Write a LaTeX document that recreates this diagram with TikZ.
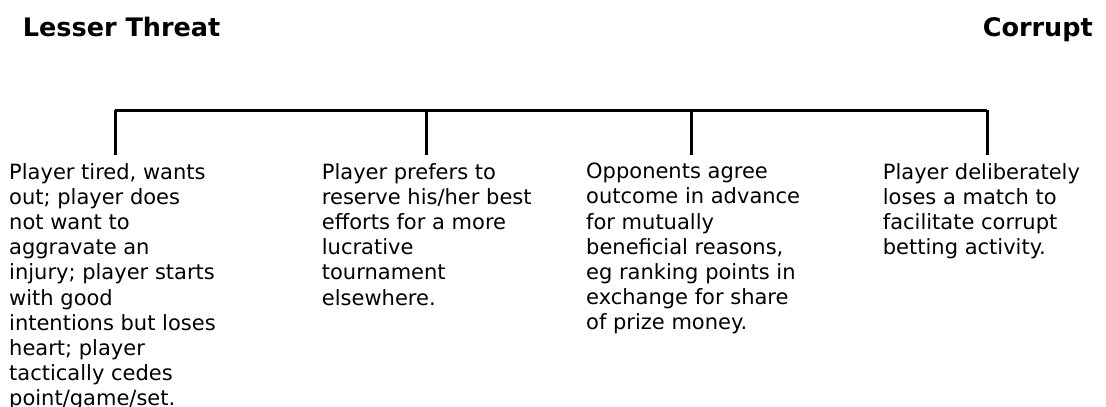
\documentclass[tikz,border=0pt]{standalone}
\usepackage{fontspec}
\setmainfont{DejaVu Sans}
\begin{document}
\begin{tikzpicture}[x=1pt,y=-1pt,
  heading/.style={font=\fontsize{25.5}{30}\selectfont\bfseries,inner sep=0pt},
  caption/.style={font=\fontsize{21}{25.2}\selectfont,align=left,anchor=north west,inner sep=0pt},
  branch/.style={line width=3pt}]
  \useasboundingbox (0,0) rectangle (1106,407);
  \node[heading,anchor=base west] (lesser) at (22.7,36) {Lesser Threat};
  \node[heading,anchor=base east] (corrupt) at (1093,36) {Corrupt};
  % the bar and its drops
  \coordinate (b1) at (115,110);
  \coordinate (b2) at (426.7,110);
  \coordinate (b3) at (691.7,110);
  \coordinate (b4) at (987,110);
  \foreach \i/\x in {1/115,2/426.7,3/691.7,4/987}
    \coordinate (t\i) at (\x,155);
  \draw[branch] (b1) -- (b4);
  \foreach \i in {1,...,4}
    \draw[branch] (b\i) -- (t\i);
  % the cases
  \node[caption] (tired) at (9,163) {Player tired, wants\\out; player does\\not want to\\aggravate an\\injury; player starts\\with good\\intentions but loses\\heart; player\\tactically cedes\\point/game/set.};
  \node[caption] (reserve) at (321.7,163) {Player prefers to\\reserve his/her best\\efforts for a more\\lucrative\\tournament\\elsewhere.};
  \node[caption] (agree) at (586,163) {Opponents agree\\outcome in advance\\for mutually\\beneficial reasons,\\eg ranking points in\\exchange for share\\of prize money.};
  \node[caption] (loses) at (882.7,163) {Player deliberately\\loses a match to\\facilitate corrupt\\betting activity.};
\end{tikzpicture}
\end{document}
